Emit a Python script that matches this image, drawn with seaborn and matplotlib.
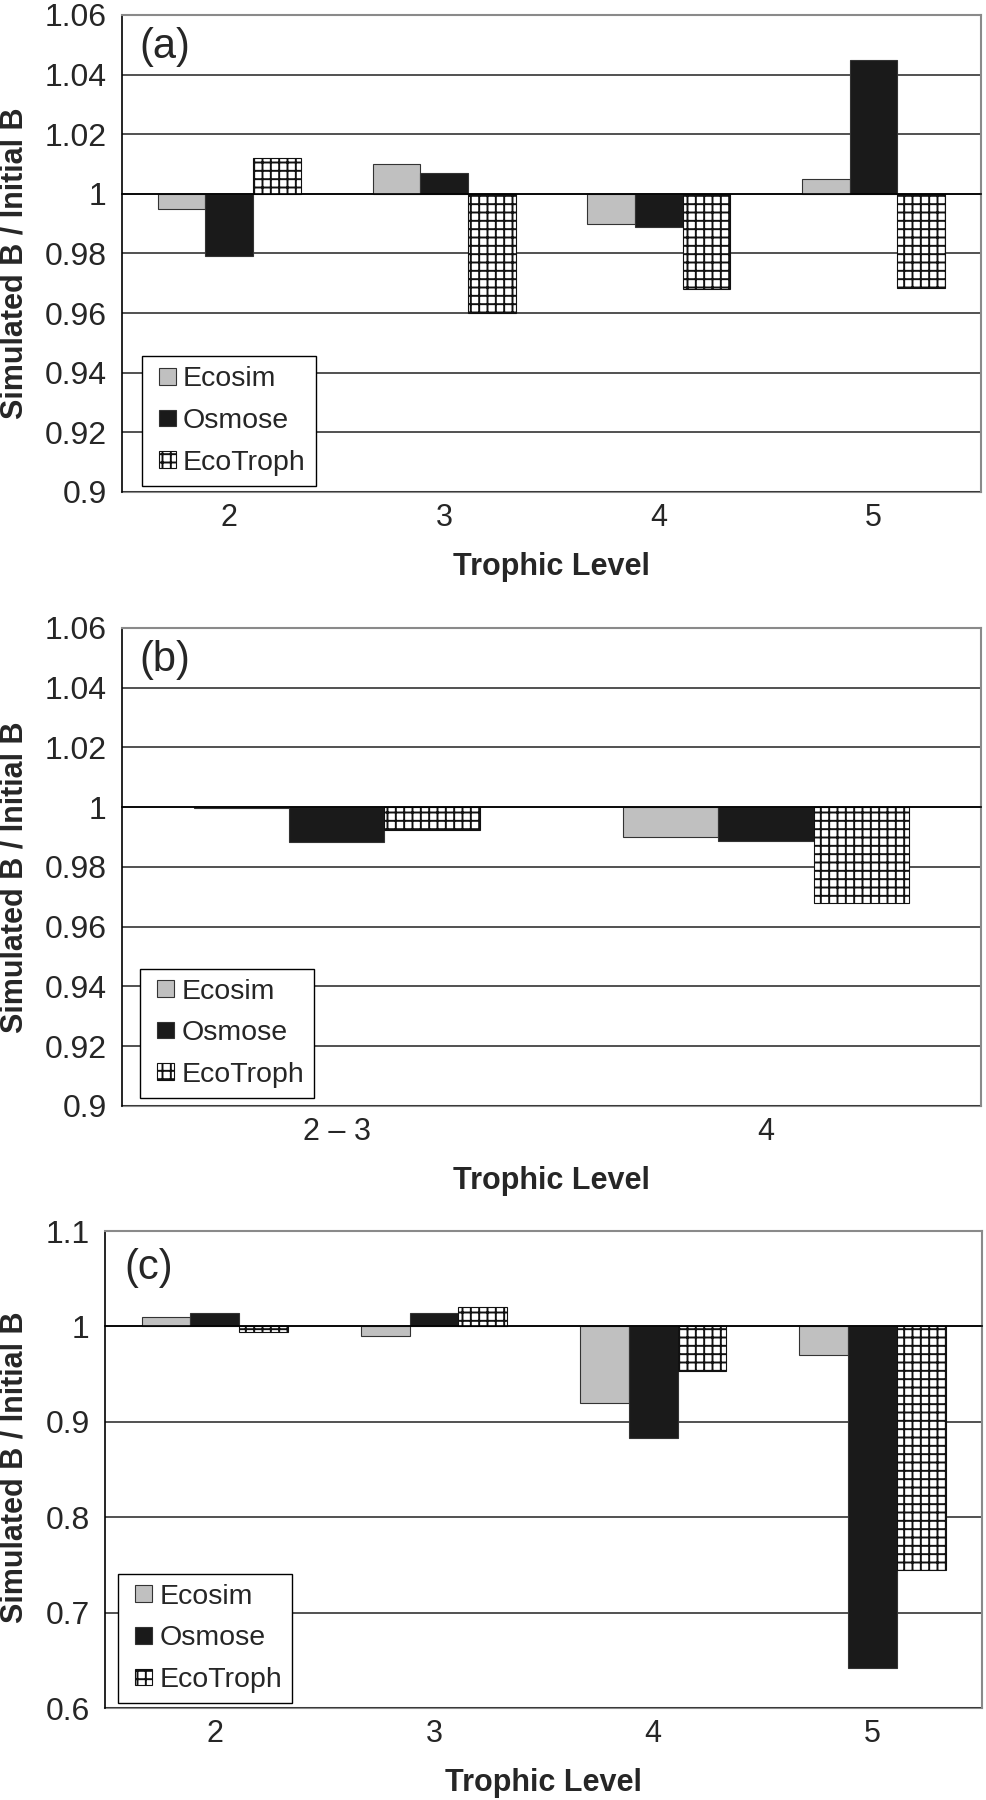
import numpy as np
import pandas as pd
import matplotlib
matplotlib.use("Agg")
import matplotlib.pyplot as plt
import matplotlib.patches as mpatches
from matplotlib.legend_handler import HandlerPatch
import seaborn as sns

# ---- data ----
models = ["Ecosim", "Osmose", "EcoTroph"]

levels_a = ["2", "3", "4", "5"]
ecosim_a = [0.995, 1.010, 0.990, 1.005]
osmose_a = [0.979, 1.007, 0.989, 1.045]
ecotroph_a = [1.012, 0.960, 0.968, 0.9685]

levels_b = ["2 \u2013 3", "4"]
ecosim_b = [0.9997, 0.990]
osmose_b = [0.9884, 0.9888]
ecotroph_b = [0.9923, 0.9678]

levels_c = ["2", "3", "4", "5"]
ecosim_c = [1.010, 0.990, 0.920, 0.970]
osmose_c = [1.0137, 1.014, 0.8835, 0.642]
ecotroph_c = [0.994, 1.0205, 0.953, 0.745]

yticks_ab = [0.9, 0.92, 0.94, 0.96, 0.98, 1.0, 1.02, 1.04, 1.06]
ylabels_ab = ["0.9", "0.92", "0.94", "0.96", "0.98", "1", "1.02", "1.04", "1.06"]
yticks_c = [0.6, 0.7, 0.8, 0.9, 1.0, 1.1]
ylabels_c = ["0.6", "0.7", "0.8", "0.9", "1", "1.1"]

colors = {"Ecosim": "#c0c0c0", "Osmose": "#1a1a1a", "EcoTroph": "#ffffff"}

sns.set_style("white")
plt.rcParams["font.family"] = ["Liberation Sans", "DejaVu Sans"]
plt.rcParams["hatch.linewidth"] = 1.4


def long_table(levels, series):
    rows = [(lvl, m, v) for m, vals in zip(models, series) for lvl, v in zip(levels, vals)]
    df = pd.DataFrame(rows, columns=["level", "model", "value"])
    df["dev"] = df["value"] - 1.0
    return df


def square_patch(legend, orig_handle, xdescent, ydescent, width, height, fontsize):
    # small square pushed to the right end of the handle box
    return mpatches.Rectangle((width - height - xdescent, -ydescent), height, height)


def draw_panel(ax, levels, series, yticks, ylabels, tag, ylab_xy, leg_xy, tag_y):
    df = long_table(levels, series)
    n = len(levels)
    sns.barplot(data=df, x="level", y="dev", hue="model", order=levels,
                hue_order=models, palette=colors, width=2 / 3, bottom=1.0,
                saturation=1, errorbar=None, edgecolor="#333333",
                linewidth=0.8, legend=False, ax=ax)
    for p in ax.containers[2]:
        p.set_hatch("++")
        p.set_edgecolor("#111111")

    ax.set_ylim(yticks[0], yticks[-1])
    ax.set_yticks(yticks, ylabels)
    ax.tick_params(axis="y", length=5, width=1.2, pad=6, labelsize=23, color="black")
    ax.yaxis.grid(True, color="#222222", lw=1.1)
    ax.xaxis.grid(False)
    ax.set_axisbelow(True)

    # category axis crosses at 1, tick marks between categories
    ax.spines["bottom"].set_position(("data", 1.0))
    ax.spines["bottom"].set_color("black")
    ax.spines["bottom"].set_linewidth(1.2)
    ax.spines["left"].set_color("black")
    ax.spines["left"].set_linewidth(1.2)
    for s in ["top", "right"]:
        ax.spines[s].set_color("#8a8a8a")
        ax.spines[s].set_linewidth(1.5)
    ax.set_xticks(range(n))
    ax.tick_params(axis="x", which="major", length=0, labelbottom=False)
    ax.set_xticks([i + 0.5 for i in range(n - 1)], minor=True)
    ax.tick_params(axis="x", which="minor", length=6, width=1.2, color="black", direction="out")
    ax.set_xlabel("")

    sec = ax.secondary_xaxis(0)
    sec.set_xticks(range(n), levels)
    sec.tick_params(length=0, pad=8, labelsize=22)
    sec.spines["bottom"].set_color("#8a8a8a")
    sec.spines["bottom"].set_linewidth(1.5)
    sec.set_xlabel("Trophic Level", fontsize=22, fontweight="bold", labelpad=13.5)

    ax.set_ylabel("Simulated B / Initial B", fontsize=22, fontweight="bold")
    ax.yaxis.set_label_coords(*ylab_xy)

    ax.text(0.0495, tag_y, tag, transform=ax.transAxes, ha="center", va="center", fontsize=30)

    handles = [c.patches[0] for c in ax.containers]
    leg = ax.legend(handles=handles, labels=models, loc="lower left",
                    bbox_to_anchor=leg_xy, borderaxespad=0, fontsize=20.5,
                    frameon=True, fancybox=False, framealpha=1, edgecolor="black",
                    handlelength=0.84, handleheight=0.53, handletextpad=0.26,
                    labelspacing=0.55, borderpad=0.35,
                    handler_map={mpatches.Rectangle: HandlerPatch(patch_func=square_patch)})
    leg.get_frame().set_linewidth(1.0)


fig = plt.figure(figsize=(9.86, 18), dpi=100)
ax_a = fig.add_axes([0.1237, 0.7267, 0.8712, 0.265])
ax_b = fig.add_axes([0.1237, 0.3856, 0.8712, 0.2656])
ax_c = fig.add_axes([0.1065, 0.0511, 0.8895, 0.265])

draw_panel(ax_a, levels_a, [ecosim_a, osmose_a, ecotroph_a], yticks_ab, ylabels_ab,
           "(a)", (-0.1075, 0.479), (0.023, 0.013), 0.933)
draw_panel(ax_b, levels_b, [ecosim_b, osmose_b, ecotroph_b], yticks_ab, ylabels_ab,
           "(b)", (-0.1075, 0.479), (0.021, 0.017), 0.933)
draw_panel(ax_c, levels_c, [ecosim_c, osmose_c, ecotroph_c], yticks_c, ylabels_c,
           "(c)", (-0.0859, 0.505), (0.015, 0.0105), 0.922)

fig.savefig("out.png", dpi=100)
